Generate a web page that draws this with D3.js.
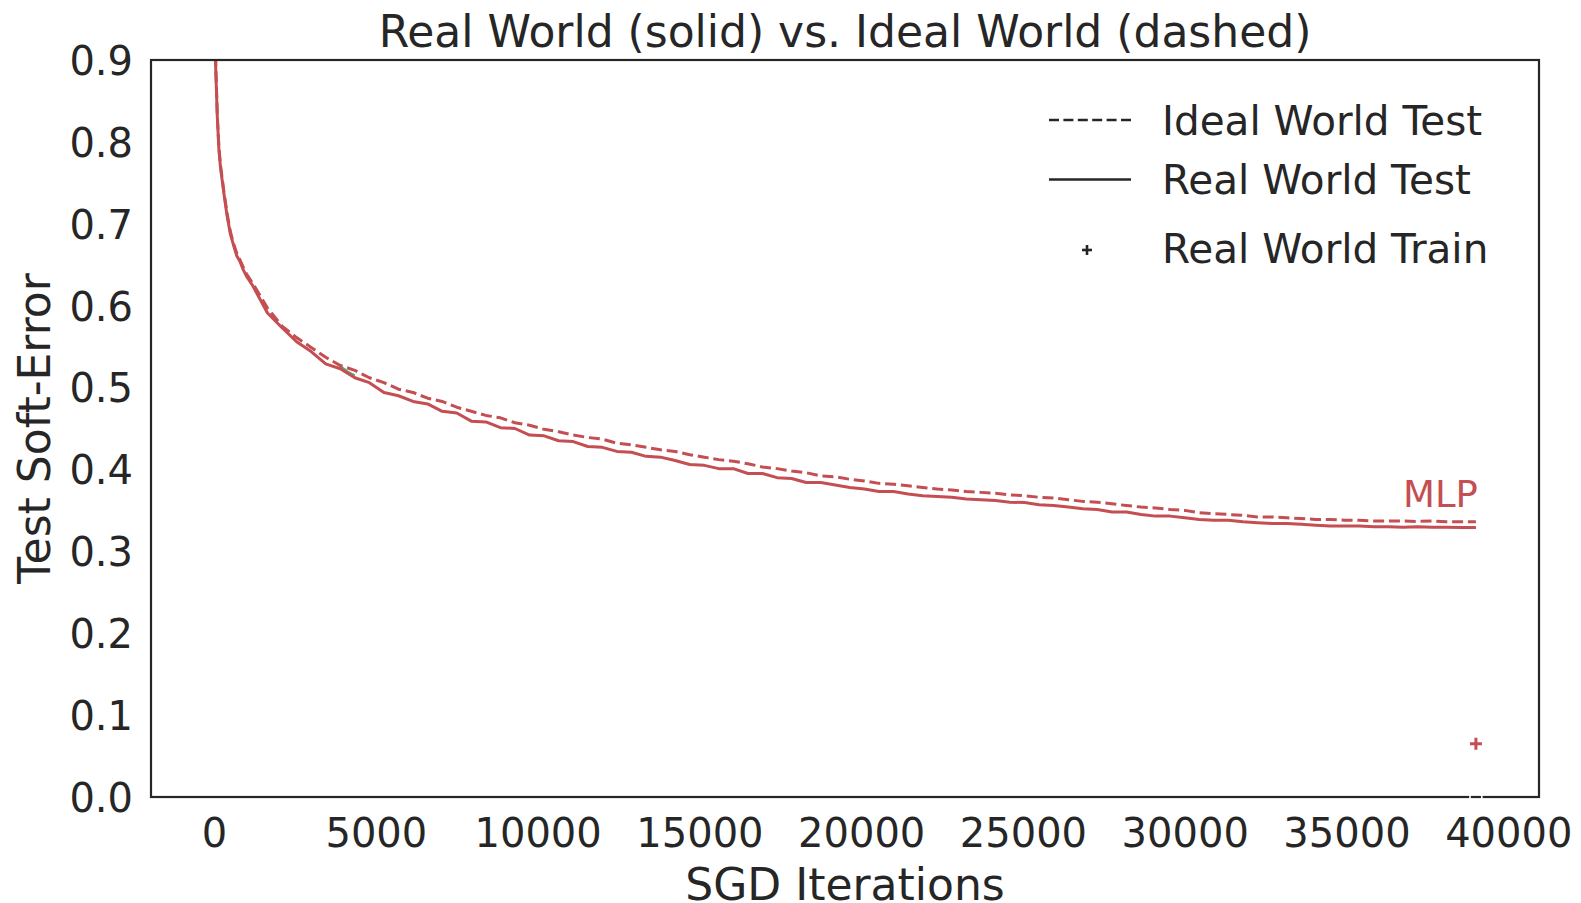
<!DOCTYPE html>
<html>
<head>
<meta charset="utf-8">
<script src="https://cdn.jsdelivr.net/npm/d3@7/dist/d3.min.js"></script>
<style>
  html, body { margin: 0; padding: 0; background: #ffffff; }
  svg { display: block; font-family: "DejaVu Sans", sans-serif; }
</style>
</head>
<body>
<svg id="chart" width="1581" height="903"></svg>
<script>
// SGD iterations at which test error was recorded
const iterations = [
  0, 50, 100, 150, 200, 300, 400, 500, 600, 700, 800, 900, 1000,
  1200, 1650, 2100, 2550, 3000, 3450, 3900, 4350, 4800, 5250,
  5700, 6150, 6600, 7050, 7500, 7950, 8400, 8850, 9300, 9750,
  10200, 10650, 11100, 11550, 12000, 12450, 12900, 13350, 13800, 14250,
  14700, 15150, 15600, 16050, 16500, 16950, 17400, 17850, 18300, 18750,
  19200, 19650, 20100, 20550, 21000, 21450, 21900, 22350, 22800, 23250,
  23700, 24150, 24600, 25050, 25500, 25950, 26400, 26850, 27300, 27750,
  28200, 28650, 29100, 29550, 30000, 30450, 30900, 31350, 31800, 32250,
  32700, 33150, 33600, 34050, 34500, 34950, 35400, 35850, 36300, 36750,
  37200, 37650, 38100, 38550, 39000
];

// MLP, real world test soft-error (solid)
const realTest = [
  1.05, 0.89, 0.83, 0.79, 0.768, 0.738, 0.71, 0.688, 0.674, 0.661, 0.654, 0.644, 0.636,
  0.624, 0.591, 0.573, 0.556, 0.544, 0.529, 0.523, 0.512, 0.506, 0.494,
  0.490, 0.483, 0.480, 0.471, 0.469, 0.459, 0.458, 0.451, 0.450, 0.442,
  0.441, 0.435, 0.434, 0.428, 0.427, 0.422, 0.421, 0.416, 0.415, 0.411,
  0.406, 0.405, 0.401, 0.401, 0.395, 0.395, 0.390, 0.389, 0.384, 0.384,
  0.381, 0.378, 0.376, 0.373, 0.373, 0.370, 0.368, 0.367, 0.366, 0.364,
  0.363, 0.362, 0.360, 0.3595, 0.357, 0.356, 0.354, 0.352, 0.351, 0.348,
  0.348, 0.345, 0.343, 0.343, 0.341, 0.339, 0.338, 0.338, 0.336, 0.335,
  0.334, 0.334, 0.333, 0.332, 0.331, 0.331, 0.331, 0.330, 0.330, 0.3295,
  0.330, 0.3295, 0.3295, 0.329, 0.329
];

// MLP, ideal world test soft-error (dashed)
const idealTest = [
  1.06, 0.895, 0.832, 0.793, 0.771, 0.740, 0.713, 0.691, 0.676, 0.664, 0.656, 0.647, 0.639,
  0.627, 0.597, 0.575, 0.561, 0.549, 0.537, 0.527, 0.521, 0.512, 0.506,
  0.498, 0.494, 0.487, 0.483, 0.476, 0.471, 0.466, 0.463, 0.457, 0.454,
  0.449, 0.446, 0.442, 0.439, 0.437, 0.432, 0.430, 0.427, 0.424, 0.422,
  0.418, 0.415, 0.412, 0.410, 0.407, 0.403, 0.401, 0.398, 0.396, 0.392,
  0.391, 0.388, 0.386, 0.383, 0.382, 0.380, 0.378, 0.376, 0.375, 0.373,
  0.372, 0.371, 0.369, 0.368, 0.366, 0.365, 0.363, 0.361, 0.360, 0.358,
  0.356, 0.354, 0.353, 0.351, 0.350, 0.347, 0.346, 0.345, 0.344, 0.342,
  0.342, 0.341, 0.340, 0.339, 0.339, 0.338, 0.338, 0.337, 0.337, 0.337,
  0.3365, 0.337, 0.336, 0.336, 0.336
];

// A second model whose curve runs underneath the MLP one
const otherIter = [3750, 3950, 4150, 4350];
const otherTest = [0.530, 0.525, 0.519, 0.515];

// Final training soft-error markers
const realTrain = [{ iter: 39000, value: 0.065 }];
const idealTrain = [{ iter: 39000, value: 0.0 }];

const xTicks = [0, 5000, 10000, 15000, 20000, 25000, 30000, 35000, 40000];
const yTicks = [0.0, 0.1, 0.2, 0.3, 0.4, 0.5, 0.6, 0.7, 0.8, 0.9];

const legendItems = [
  { label: "Ideal World Test", kind: "dashed" },
  { label: "Real World Test", kind: "solid" },
  { label: "Real World Train", kind: "plus" }
];

const RED = "#c44e52";
const GREEN = "#55a868";
const INK = "#262626";

const margin = { left: 151, top: 60, right: 1539, bottom: 797 };

const svg = d3.select("#chart");

const x = d3.scaleLinear().domain([-1950, 40950]).range([margin.left, margin.right]);
const y = d3.scaleLinear().domain([0, 0.9]).range([margin.bottom, margin.top]);

svg.append("defs").append("clipPath").attr("id", "plot-clip")
  .append("rect")
  .attr("x", margin.left).attr("y", margin.top)
  .attr("width", margin.right - margin.left)
  .attr("height", margin.bottom - margin.top);

// Axes (no tick marks, labels only)
const yAxis = svg.append("g")
  .attr("transform", `translate(${margin.left},0)`)
  .call(d3.axisLeft(y).tickValues(yTicks).tickFormat(d3.format(".1f")).tickSize(0).tickPadding(18));
yAxis.select(".domain").remove();
yAxis.selectAll("text")
  .attr("fill", INK).attr("font-size", 40).attr("font-family", "DejaVu Sans")
  .attr("dy", "0.36em");

const xAxis = svg.append("g")
  .attr("transform", `translate(0,${margin.bottom})`)
  .call(d3.axisBottom(x).tickValues(xTicks).tickFormat(d3.format("d")).tickSize(0).tickPadding(22));
xAxis.select(".domain").remove();
xAxis.selectAll("text")
  .attr("fill", INK).attr("font-size", 40).attr("font-family", "DejaVu Sans")
  .attr("dy", "0.71em");

// Curves
const plot = svg.append("g").attr("clip-path", "url(#plot-clip)");

const line = d3.line()
  .x(d => x(d[0]))
  .y(d => y(d[1]));

plot.append("path")
  .datum(otherIter.map((it, i) => [it, otherTest[i]]))
  .attr("d", line)
  .attr("fill", "none").attr("stroke", GREEN).attr("stroke-width", 2);

plot.append("path")
  .datum(iterations.map((it, i) => [it, idealTest[i]]))
  .attr("d", line)
  .attr("fill", "none").attr("stroke", RED).attr("stroke-width", 3)
  .attr("stroke-dasharray", "11 4.8")
  .attr("stroke-linejoin", "round");

plot.append("path")
  .datum(iterations.map((it, i) => [it, realTest[i]]))
  .attr("d", line)
  .attr("fill", "none").attr("stroke", RED).attr("stroke-width", 3)
  .attr("stroke-linejoin", "round");

// Train markers
const plus = (g, cx, cy, r, color, w) => {
  g.append("line").attr("x1", cx - r).attr("x2", cx + r).attr("y1", cy).attr("y2", cy)
    .attr("stroke", color).attr("stroke-width", w);
  g.append("line").attr("x1", cx).attr("x2", cx).attr("y1", cy - r).attr("y2", cy + r)
    .attr("stroke", color).attr("stroke-width", w);
};
const markers = svg.append("g");
realTrain.forEach(d => plus(markers, x(d.iter), y(d.value), 6, RED, 3));

// Frame
svg.append("rect")
  .attr("x", margin.left).attr("y", margin.top)
  .attr("width", margin.right - margin.left)
  .attr("height", margin.bottom - margin.top)
  .attr("fill", "none").attr("stroke", INK).attr("stroke-width", 2.2);

idealTrain.forEach(d => {
  svg.append("circle")
    .attr("cx", x(d.iter)).attr("cy", y(d.value)).attr("r", 6)
    .attr("fill", "none").attr("stroke", "#ffffff").attr("stroke-width", 1.6);
});

// Series label
svg.append("text")
  .attr("x", x(39000) + 2).attr("y", y(realTest[realTest.length - 1]) - 21)
  .attr("text-anchor", "end").attr("font-size", 37).attr("fill", RED)
  .text("MLP");

// Titles
svg.append("text")
  .attr("x", (margin.left + margin.right) / 2).attr("y", 47)
  .attr("text-anchor", "middle").attr("font-size", 44).attr("fill", INK)
  .text("Real World (solid) vs. Ideal World (dashed)");

svg.append("text")
  .attr("x", (margin.left + margin.right) / 2).attr("y", 900)
  .attr("text-anchor", "middle").attr("font-size", 44).attr("fill", INK)
  .text("SGD Iterations");

svg.append("text")
  .attr("transform", `translate(50,${(margin.top + margin.bottom) / 2}) rotate(-90)`)
  .attr("text-anchor", "middle").attr("font-size", 44).attr("fill", INK)
  .text("Test Soft-Error");

// Legend
const legend = svg.append("g");
const rowY = [120, 179.5, 248];
legendItems.forEach((item, i) => {
  const cy = rowY[i];
  if (item.kind === "dashed") {
    legend.append("line").attr("x1", 1049).attr("x2", 1131).attr("y1", cy).attr("y2", cy)
      .attr("stroke", INK).attr("stroke-width", 2.6).attr("stroke-dasharray", "10 4.4");
  } else if (item.kind === "solid") {
    legend.append("line").attr("x1", 1049).attr("x2", 1131).attr("y1", cy).attr("y2", cy)
      .attr("stroke", INK).attr("stroke-width", 2.6);
  } else {
    plus(legend, 1087, cy + 2, 5, INK, 2.6);
  }
  legend.append("text")
    .attr("x", 1162).attr("y", cy).attr("dy", "0.36em")
    .attr("font-size", 40.5).attr("fill", INK)
    .text(item.label);
});
</script>
</body>
</html>
